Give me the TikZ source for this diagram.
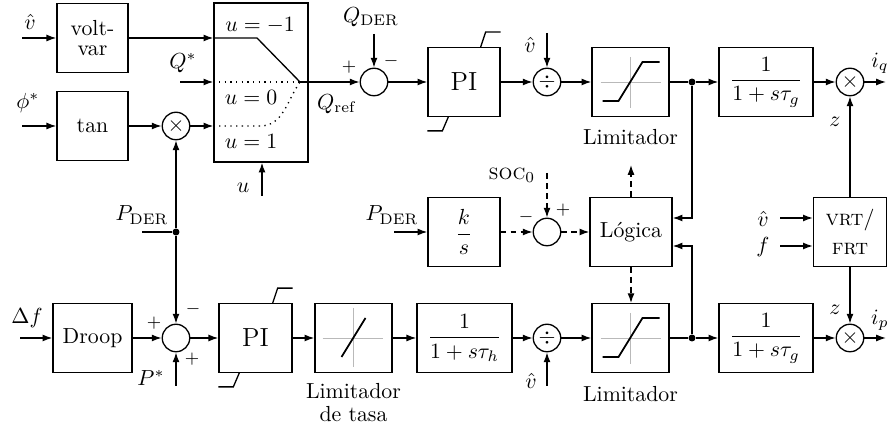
\documentclass[tikz,border=0pt]{standalone}
\usetikzlibrary{calc, positioning, arrows.meta}

\begin{document}
\begin{tikzpicture}[
    x=0.4585pt, y=-0.4585pt,
    >={Latex[length=4.5pt,width=3.2pt]},
    line width=0.6pt,
    blk/.style={draw, inner sep=0pt, minimum height=31.4pt, align=center},
    pibox/.style={blk, font=\large},
    sumc/.style={draw, circle, inner sep=0pt, minimum size=12.6pt},
    jdot/.style={circle, fill, inner sep=0pt, minimum size=3.2pt},
    dsh/.style={dash pattern=on 2.6pt off 2pt},
    axis/.style={gray!55, line width=0.4pt},
    sgn/.style={inner sep=0pt, font=\footnotesize},
    lbl/.style={inner sep=0pt},
  ]
    \useasboundingbox (0,0) rectangle (893,431);

    % reactive power path
    \node[blk, minimum width=32.6pt] (vv) at (92.5,38) {volt-\\[-3pt]var};
    \node[blk, minimum width=32.6pt] (tanb) at (92.5,126) {$\tan$};
    \node[sumc] (mult1) at (176,126) {$\times$};
    \node[blk, minimum width=43.1pt, minimum height=72.9pt] (sw) at (261,82.5) {};
    \node[lbl] (um) at (260,25) {$u=-1$};
    \node[lbl] (uz) at (251,97) {$u=0$};
    \node[lbl] (uo) at (251,141) {$u=1$};
    \coordinate (swo) at (300,82);
    \node[sumc] (sum1) at (374,82) {};
    \node[pibox, minimum width=33pt] (pi1) at (464,82) {PI};
    \node[sumc] (div1) at (547,82) {$\div$};
    \node[blk, minimum width=35.3pt] (lim1) at (630.5,82) {};
    \node[jdot] (d1) at (692,82) {};
    \node[blk, minimum width=43.1pt] (tg1) at (766,82) {$\displaystyle\frac{1}{1+s\tau_g}$};
    \node[sumc] (mult2) at (850,82) {$\times$};

    % SOC logic
    \node[blk, minimum width=33pt] (ks) at (464,232) {$\displaystyle\frac{k}{s}$};
    \node[sumc] (sum2) at (547,232) {};
    \node[blk, minimum width=37.6pt] (logic) at (631,232) {L\'ogica};
    \node[blk, minimum width=33.5pt] (vrt) at (850,232) {\textsc{vrt}/\\[1pt]\textsc{frt}};

    % active power path
    \node[blk, minimum width=36.2pt] (droop) at (92.5,338) {Droop};
    \node[sumc] (sum3) at (176,338) {};
    \node[jdot] (pd) at (176,232) {};
    \node[pibox, minimum width=33.5pt] (pi2) at (255.5,338) {PI};
    \node[blk, minimum width=35.3pt] (rate) at (353.5,338) {};
    \node[blk, minimum width=43.6pt] (th) at (464.5,338) {$\displaystyle\frac{1}{1+s\tau_h}$};
    \node[sumc] (div2) at (547,338) {$\div$};
    \node[blk, minimum width=35.3pt] (lim2) at (630.5,338) {};
    \node[jdot] (d2) at (692,338) {};
    \node[blk, minimum width=43.1pt] (tg2) at (766,338) {$\displaystyle\frac{1}{1+s\tau_g}$};
    \node[sumc] (mult3) at (850,338) {$\times$};

    \node[below=2pt of lim1] (limlab1) {Limitador};
    \node[below=2.5pt of lim2] (limlab2) {Limitador};
    \node[below=1pt of rate, align=center] (ratelab) {Limitador\\[-1.5pt]de tasa};

    % free ends
    \coordinate (vin) at (22,38);
    \coordinate (phin) at (22,126);
    \coordinate (qin) at (180,82);
    \coordinate (uin) at (262,196);
    \coordinate (qd) at (374,34);
    \coordinate (vd1) at (547,33);
    \coordinate (iq) at (886,82);
    \coordinate (pin) at (394,232);
    \coordinate (soc) at (547,173);
    \coordinate (lt) at (631,165);
    \coordinate (vin2) at (780,218);
    \coordinate (fin) at (780,246);
    \coordinate (dfin) at (20,338);
    \coordinate (pdin) at (142,232);
    \coordinate (pst) at (176,386);
    \coordinate (vd2) at (547,386);
    \coordinate (ip) at (886,338);

    % labels
    \node[lbl] (vlab) at (30,22) {$\hat v$};
    \node[lbl] (philab) at (28,103) {$\phi^*$};
    \node[lbl] (qlab) at (183,63) {$Q^*$};
    \node[lbl] (ulab) at (243,188) {$u$};
    \node[lbl] (qrlab) at (337,104) {$Q_{\mathrm{ref}}$};
    \node[lbl] (qdlab) at (371,17) {$Q_{\mathrm{DER}}$};
    \node[sgn] (s1p) at (349,67) {$+$};
    \node[sgn] (s1m) at (391,61) {$-$};
    \node[lbl] (vlab1) at (530,45) {$\hat v$};
    \node[lbl] (iqlab) at (880,63) {$i_q$};
    \node[lbl] (zlab1) at (835,122) {$z$};
    \node[lbl] (pdlab2) at (392,215) {$P_{\mathrm{DER}}$};
    \node[lbl] (soclab) at (512,175) {\textsc{soc}$_0$};
    \node[sgn] (s2m) at (526,217) {$-$};
    \node[sgn] (s2p) at (563,210) {$+$};
    \node[lbl] (vlab2) at (763,219) {$\hat v$};
    \node[lbl] (flab) at (763,247) {$f$};
    \node[lbl] (zlab2) at (835,310) {$z$};
    \node[lbl] (iplab) at (880,320) {$i_p$};
    \node[lbl] (dflab) at (27,318) {$\Delta f$};
    \node[lbl] (pdlab) at (142,215) {$P_{\mathrm{DER}}$};
    \node[sgn] (s3p) at (154,323) {$+$};
    \node[sgn] (s3m) at (193,309) {$-$};
    \node[sgn] (s3b) at (192,359) {$+$};
    \node[lbl] (pstlab) at (151,378) {$P^*$};
    \node[lbl] (vlab3) at (531,381) {$\hat v$};

    % switch inside
    \draw (sw.west |- vv) -- (257,38) -- (swo);
    \draw[dotted] (sw.west |- swo) -- (swo);
    \draw[dotted] (sw.west |- mult1) -- (260,126) to[out=0,in=235] (swo);

    % limiter and rate limiter curves
    \foreach \b in {lim1,lim2} {
      \draw[axis] ($(\b)+(-30,0)$) -- ($(\b)+(30,0)$);
      \draw[axis] ($(\b)+(0,-25)$) -- ($(\b)+(0,26)$);
      \draw[line width=0.8pt] ($(\b)+(-28,19)$) -- ++(16,0) -- ++(24,-39) -- ++(17,0);
    }
    \draw[axis] ($(rate)+(-31,0)$) -- ($(rate)+(29,0)$);
    \draw[axis] ($(rate)+(0,-30)$) -- ($(rate)+(0,29)$);
    \draw[line width=0.8pt] ($(rate)+(-12,19)$) -- ($(rate)+(12,-20)$);

    % PI limits
    \foreach \p in {pi1,pi2} {
      \draw ($(\p.north east)+(-20,0)$) -- ++(5,-15) -- ++(15,0);
      \draw ($(\p.south west)+(21,0)$) -- ++(-6,14) -- ++(-15,0);
    }

    % connectors, upper row
    \draw[->] (vin) -- (vv);
    \draw[->] (phin) -- (tanb);
    \draw[->] (vv) -- (vv -| sw.west);
    \draw[->] (tanb) -- (mult1);
    \draw[->] (mult1) -- (mult1 -| sw.west);
    \draw[->] (qin) -- (qin -| sw.west);
    \draw[->] (uin) -- (uin |- sw.south);
    \draw[->] (swo) -- (sum1);
    \draw[->] (qd) -- (sum1);
    \draw[->] (sum1) -- (pi1);
    \draw[->] (pi1) -- (div1);
    \draw[->] (vd1) -- (div1);
    \draw[->] (div1) -- (lim1);
    \draw (lim1) -- (d1);
    \draw[->] (d1) -- (tg1);
    \draw[->] (tg1) -- (mult2);
    \draw[->] (mult2) -- (iq);

    % connectors, middle
    \draw[->] (pin) -- (ks);
    \draw[dsh,->] (ks) -- (sum2);
    \draw[dsh,->] (soc) -- (sum2);
    \draw[dsh,->] (sum2) -- (logic);
    \draw[dsh,->] (logic) -- (lt);
    \draw[dsh,->] (logic) -- (logic |- lim2.north);
    \draw[->] (d1) |- ($(logic.east)+(0,-14)$);
    \draw[->] (d2) |- ($(logic.east)+(0,14)$);
    \draw[->] (vin2) -- (vin2 -| vrt.west);
    \draw[->] (fin) -- (fin -| vrt.west);
    \draw[->] (vrt) -- (mult2);
    \draw[->] (vrt) -- (mult3);

    % connectors, lower row
    \draw[->] (dfin) -- (droop);
    \draw (pdin) -- (pd);
    \draw[->] (pd) -- (mult1);
    \draw[->] (pd) -- (sum3);
    \draw[->] (pst) -- (sum3);
    \draw[->] (droop) -- (sum3);
    \draw[->] (sum3) -- (pi2);
    \draw[->] (pi2) -- (rate);
    \draw[->] (rate) -- (th);
    \draw[->] (th) -- (div2);
    \draw[->] (vd2) -- (div2);
    \draw[->] (div2) -- (lim2);
    \draw (lim2) -- (d2);
    \draw[->] (d2) -- (tg2);
    \draw[->] (tg2) -- (mult3);
    \draw[->] (mult3) -- (ip);
  \end{tikzpicture}
\end{document}
